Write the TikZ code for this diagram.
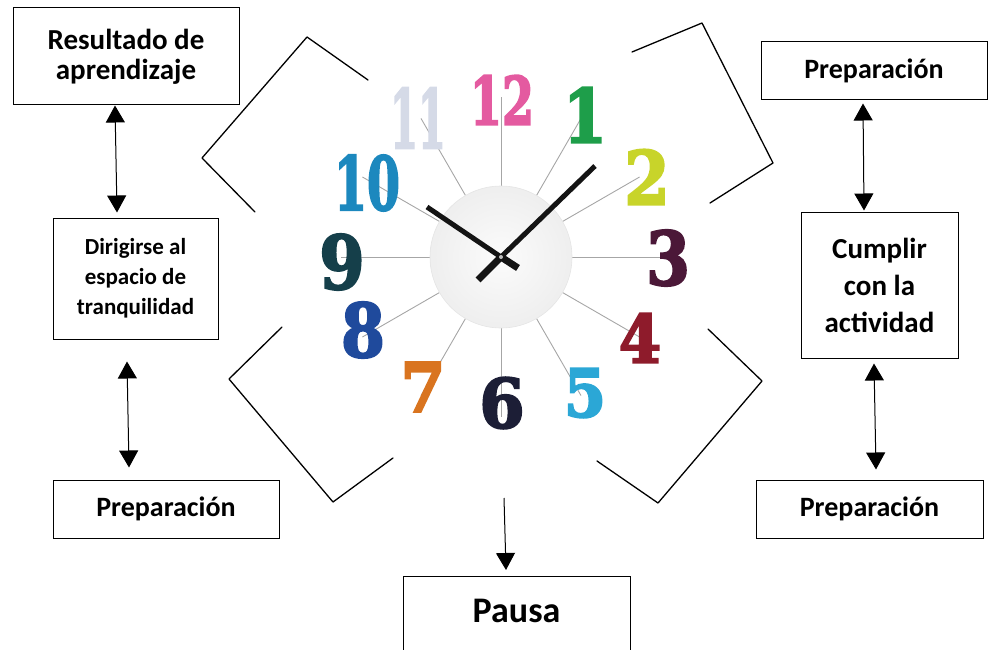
\documentclass[tikz,border=0pt]{standalone}
\usepackage{fontspec}
\setmainfont{Carlito}
\newfontfamily\numfont{DejaVu Serif}[BoldFeatures={FakeBold=3}]
\usetikzlibrary{arrows.meta,calc}
\definecolor{cA}{HTML}{E45AA0}
\definecolor{cB}{HTML}{1E9E4A}
\definecolor{cC}{HTML}{C8D42A}
\definecolor{cD}{HTML}{4B1838}
\definecolor{cE}{HTML}{8E1B2B}
\definecolor{cF}{HTML}{2BA7D6}
\definecolor{cG}{HTML}{1C1E36}
\definecolor{cH}{HTML}{D9741F}
\definecolor{cI}{HTML}{1F4A9C}
\definecolor{cJ}{HTML}{153F4A}
\definecolor{cK}{HTML}{1C88BE}
\definecolor{cL}{HTML}{D5DAE7}
\tikzset{bigtip/.tip={Triangle[width=19pt,length=17pt]}}
\begin{document}
\begin{tikzpicture}[x=1pt,y=-1pt,
  box/.style={draw=black, line width=1pt, align=center, inner sep=0pt, font=\bfseries},
  conn/.style={line width=1pt, bigtip-bigtip},
  oneway/.style={line width=1pt, -bigtip},
  bracket/.style={line width=1.3pt, line join=round, line cap=round},
  spoke/.style={gray!70, line width=0.9pt},
  num/.style={font=\numfont\bfseries\fontsize{74}{74}\selectfont, inner sep=0pt},
  hand/.style={black!92}]
\useasboundingbox (0,0) rectangle (990,650);

% ---------- clock ----------
\coordinate (c) at (501,257);
\foreach \k in {1,...,12}{
  \draw[spoke] ($(c)+({30*\k-90}:71)$) -- ($(c)+({30*\k-90}:160)$);
}
\shade[inner color=gray!3, outer color=gray!13] (c) circle (71);
\draw[gray!20, line width=0.6pt] (c) circle (71);

\node[num, text=cA] (n12) at (502,100) {\scalebox{0.62}[0.9]{12}};
\node[num, text=cB] (n1)  at (585,115) {\scalebox{0.85}[1]{1}};
\node[num, text=cC] (n2)  at (647,177) {\scalebox{0.88}[1]{2}};
\node[num, text=cD] (n3)  at (668,258) {\scalebox{0.85}[1]{3}};
\node[num, text=cE] (n4)  at (640,338) {\scalebox{0.82}[0.9]{4}};
\node[num, text=cF] (n5)  at (585,393) {\scalebox{0.82}[0.9]{5}};
\node[num, text=cG] (n6)  at (502,403) {\scalebox{0.88}[0.92]{6}};
\node[num, text=cH] (n7)  at (423,387) {\scalebox{0.88}[0.92]{7}};
\node[num, text=cI] (n8)  at (363,330) {\scalebox{0.85}[1]{8}};
\node[num, text=cJ] (n9)  at (342,262) {\scalebox{0.88}[1]{9}};
\node[num, text=cK] (n10) at (367,183) {\scalebox{0.64}[1]{10}};
\node[num, text=cL] (n11) at (418,118) {\scalebox{0.54}[1.1]{11}};

% hands
\draw[hand, line width=5pt] (427,207) -- (c);
\draw[hand, line width=5pt] (595,166) -- (c);
\draw[hand, line width=7pt] (c) -- (518,268);
\draw[hand, line width=7pt] (c) -- (478,280);
\fill[gray!50] (c) circle (2);

% ---------- brackets ----------
\draw[bracket] (368,80) -- (307,37) -- (202,158) -- (255,212);
\draw[bracket] (632,52) -- (702,23) -- (773,163) -- (710,203);
\draw[bracket] (282,327) -- (229,379) -- (333,502) -- (393,458);
\draw[bracket] (708,329) -- (762,381) -- (658,503) -- (597,461);

% ---------- boxes ----------
\node[box, minimum width=226pt, minimum height=97pt, font=\bfseries\fontsize{29}{30}\selectfont]
  (res) at (126,56.5) {Resultado de\\aprendizaje};
\node[box, minimum width=165pt, minimum height=121pt, font=\bfseries\fontsize{23}{30}\selectfont]
  (dir) at (135.5,278.5) {Dirigirse al\\espacio de\\tranquilidad};
\node[box, minimum width=226pt, minimum height=58pt, font=\bfseries\fontsize{28}{30}\selectfont]
  (prepL) at (166,509) {Preparación};
\node[box, minimum width=226pt, minimum height=58pt, font=\bfseries\fontsize{28}{30}\selectfont]
  (prepT) at (874,71) {Preparación};
\node[box, minimum width=157pt, minimum height=146pt, font=\bfseries\fontsize{29}{37}\selectfont]
  (cum) at (879.5,285) {Cumplir\\con la\\actividad};
\node[box, minimum width=227pt, minimum height=58pt, font=\bfseries\fontsize{28}{30}\selectfont]
  (prepR) at (869.5,509) {Preparación};
\node[box, minimum width=227pt, minimum height=120pt, anchor=north] (pausa) at (516.5,576) {};
\node[font=\bfseries\fontsize{36}{40}\selectfont, anchor=base, inner sep=0pt] (pausatxt) at (516.5,622) {Pausa};

% ---------- connectors ----------
\draw[conn] ([xshift=-11pt]res.south) -- ([xshift=-18.5pt,yshift=5pt]dir.north);
\draw[conn] ([xshift=-8.5pt,yshift=-22pt]dir.south) -- ([xshift=-37pt,yshift=12pt]prepL.north);
\draw[conn] ([xshift=-11pt,yshift=-3pt]prepT.south) -- ([xshift=-15.5pt,yshift=1pt]cum.north);
\draw[conn] ([xshift=-5.5pt,yshift=-5pt]cum.south) -- ([xshift=6.5pt,yshift=10pt]prepR.north);
\coordinate (pstart) at (504,498);
\draw[oneway] (pstart) -- ([xshift=-10.5pt,yshift=6pt]pausa.north);
\end{tikzpicture}
\end{document}
